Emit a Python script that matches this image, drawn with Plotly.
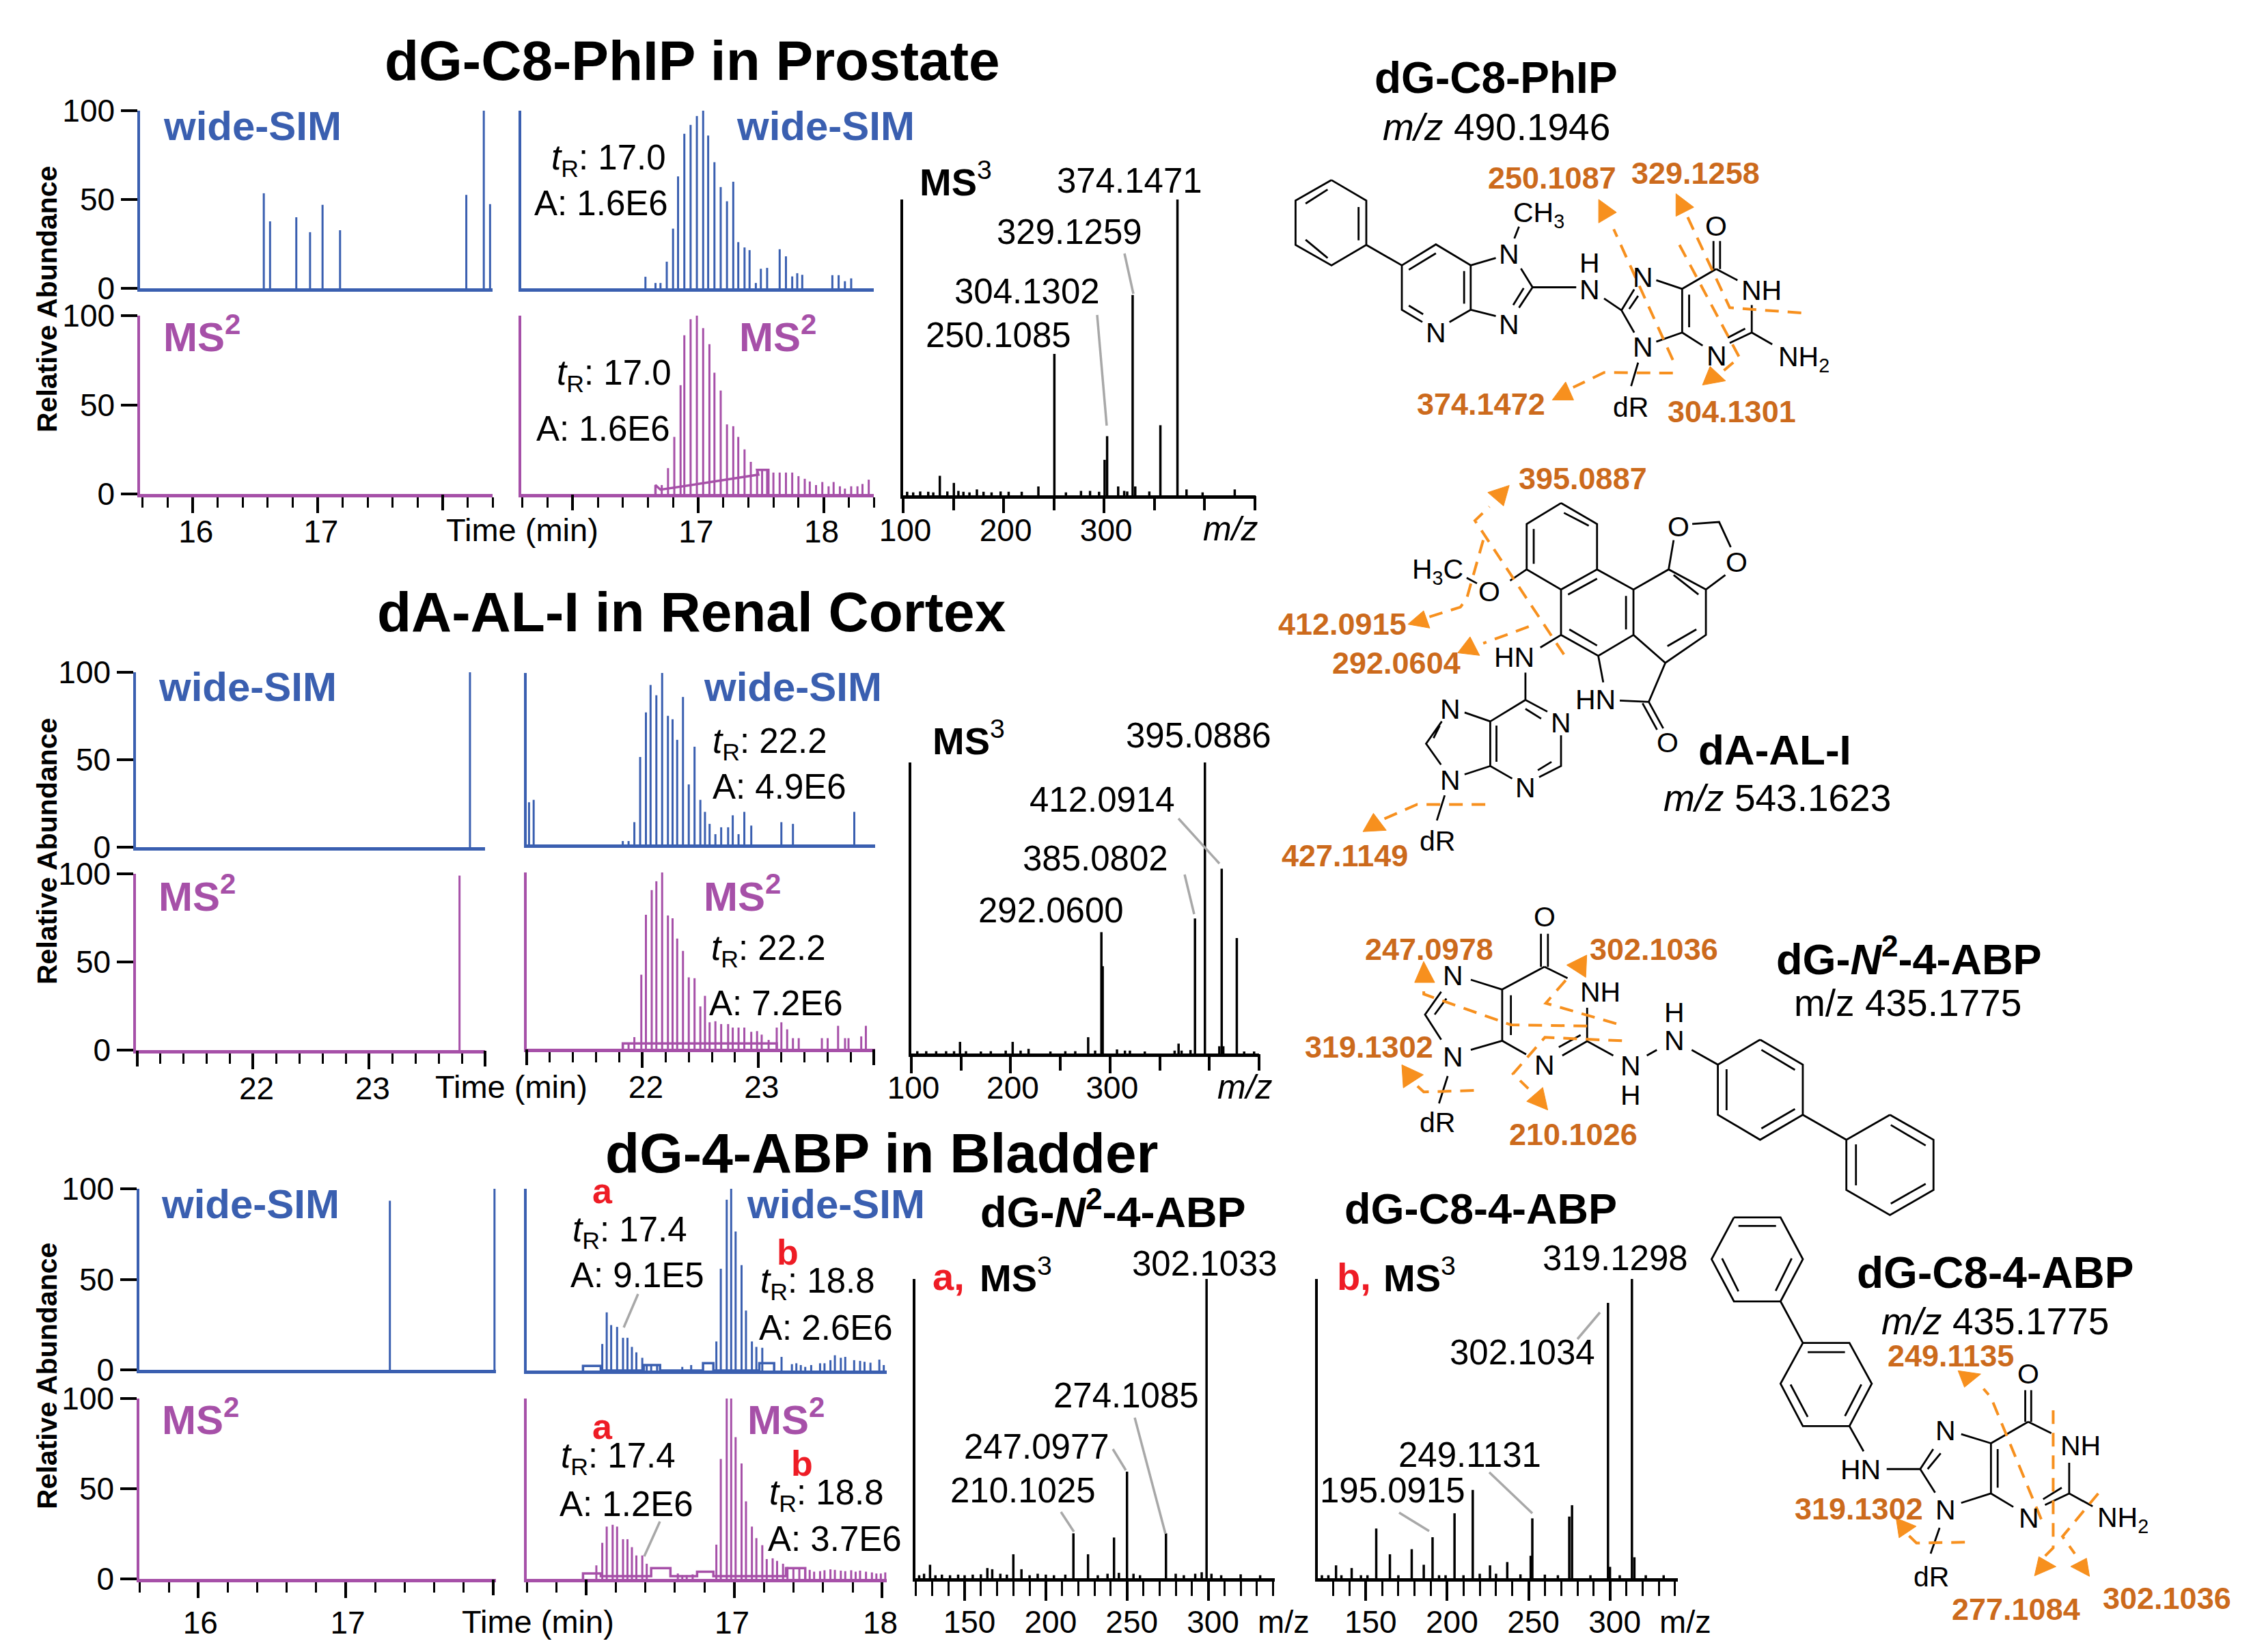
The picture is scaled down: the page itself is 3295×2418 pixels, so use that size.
import plotly.graph_objects as go

W, H = 3295, 2418
FONT = "Liberation Sans"
BLUE = "#3A5FB0"
PURPLE = "#A650A8"
ORANGE_T = "#CC6A1C"
ORANGE_L = "#F7901E"
GRAY = "#A8A8A8"

# ---------- chromatogram data (time min, relative abundance) ----------
r1_sim_left_t = [16.57, 16.62, 16.83, 16.94, 17.04, 17.18, 18.19, 18.33, 18.38]
r1_sim_left_y = [53.5, 37.7, 40, 31.6, 47, 32.7, 52.6, 100, 47.4]
r1_ms2_left_t = [15.6, 18.4]
r1_ms2_left_y = [0, 0]
r1_sim_mid_t = [16.58, 16.66, 16.70, 16.75, 16.80, 16.84, 16.89, 16.94, 16.99, 17.04, 17.08, 17.13, 17.18, 17.23, 17.28, 17.32, 17.37, 17.41, 17.46, 17.50, 17.55, 17.65, 17.70, 17.75, 17.79, 17.83, 18.07, 18.12, 18.17, 18.22]
r1_sim_mid_y = [6.5, 3, 3, 15, 33.6, 63, 87, 92, 97, 100, 86, 71, 57, 49, 60, 26, 23, 21.5, 3, 11, 11.5, 22, 18, 6.7, 8.5, 7.6, 7.4, 7.4, 4, 5.6]
r1_ms2_mid_t = [16.66, 16.71, 16.76, 16.81, 16.86, 16.89, 16.94, 16.99, 17.04, 17.09, 17.13, 17.18, 17.23, 17.28, 17.32, 17.37, 17.42, 17.47, 17.51, 17.55, 17.60, 17.65, 17.70, 17.75, 17.80, 17.85, 17.89, 17.94, 17.99, 18.04, 18.08, 18.13, 18.17, 18.22, 18.27, 18.31, 18.36]
r1_ms2_mid_y = [5, 5, 14.5, 32, 61, 89, 98, 100, 93, 84, 68, 58, 39, 38, 32, 25, 18, 13.5, 13.5, 13, 12, 12, 12, 12, 10, 8.5, 7, 5, 6.7, 4.3, 6.7, 4.3, 3, 4.3, 4.3, 5.6, 8]
r1_ms2_base_t = [16.66, 16.66, 16.70, 17.48, 17.47, 17.47, 17.56, 17.56]
r1_ms2_base_y = [0, 5, 2.4, 10.8, 13.5, 13.5, 13.5, 0]

r2_sim_left_t = [23.87]
r2_sim_left_y = [100]
r2_ms2_left_t = [23.78]
r2_ms2_left_y = [99]
r2_sim_mid_t = [21.02, 21.06, 21.83, 21.88, 21.93, 21.98, 22.03, 22.07, 22.12, 22.17, 22.22, 22.26, 22.30, 22.35, 22.40, 22.45, 22.50, 22.54, 22.58, 22.63, 22.68, 22.74, 22.78, 22.83, 22.88, 22.94, 23.20, 23.30, 23.83]
r2_sim_mid_y = [24.6, 26, 2, 2, 13, 51, 77, 93, 87, 100, 75, 73, 61, 86, 35, 57, 26, 19, 12, 6, 10, 10, 17, 6, 19, 11, 13, 12, 19]
r2_ms2_mid_t = [21.83, 21.88, 21.93, 21.99, 22.03, 22.08, 22.12, 22.17, 22.22, 22.26, 22.30, 22.35, 22.40, 22.45, 22.50, 22.54, 22.58, 22.63, 22.68, 22.74, 22.78, 22.83, 22.88, 22.94, 22.99, 23.03, 23.09, 23.16, 23.20, 23.25, 23.30, 23.35, 23.55, 23.60, 23.69, 23.75, 23.78, 23.89, 23.93]
r2_ms2_mid_y = [3, 3, 6.6, 42, 76, 90, 95, 100, 75.6, 74, 62.5, 55.5, 40.5, 40, 24, 30, 15, 15.6, 14, 14, 12, 12, 12, 9.6, 10, 8, 5, 12, 15, 11, 6, 6, 6, 6, 13, 6, 6, 7, 13]
r2_ms2_base_t = [21.83, 21.83, 23.16, 23.16]
r2_ms2_base_y = [0, 3, 3, 0]

r3_sim_left_t = [17.30, 18.01]
r3_sim_left_y = [93.4, 100]
r3_ms2_left_t = [15.6, 18.0]
r3_ms2_left_y = [0, 0]
r3_sim_mid_t = [16.11, 16.14, 16.17, 16.21, 16.25, 16.28, 16.31, 16.34, 16.38, 16.41, 16.44, 16.48, 16.65, 16.71, 16.88, 16.91, 16.95, 16.98, 17.01, 17.05, 17.08, 17.12, 17.15, 17.19, 17.32, 17.39, 17.42, 17.45, 17.48, 17.52, 17.58, 17.61, 17.65, 17.68, 17.72, 17.75, 17.81, 17.85, 17.88, 17.92, 17.98, 18.01]
r3_sim_mid_y = [14.6, 32, 25, 24, 18, 18, 13, 10, 7, 3, 3, 3, 2, 3, 16, 56, 94, 100, 76.5, 58, 33, 16, 13, 12.5, 7.5, 3.5, 4, 3, 2, 3, 4, 4, 5.7, 8.4, 7, 7.5, 5.7, 5.3, 4.8, 4.3, 6, 3]
r3_sim_base_t = [15.98, 15.98, 16.10, 16.10, 16.39, 16.39, 16.50, 16.50, 16.79, 16.79, 16.86, 16.86, 17.17, 17.17, 17.27, 17.27]
r3_sim_base_y = [0, 2.5, 2.5, 0, 0, 3, 3, 0, 0, 4, 4, 0, 0, 4, 4, 0]
r3_ms2_mid_t = [16.07, 16.11, 16.14, 16.18, 16.21, 16.25, 16.28, 16.31, 16.34, 16.38, 16.41, 16.62, 16.65, 16.68, 16.72, 16.88, 16.91, 16.95, 16.98, 17.01, 17.05, 17.08, 17.12, 17.15, 17.19, 17.22, 17.26, 17.29, 17.33, 17.36, 17.40, 17.44, 17.51, 17.54, 17.58, 17.61, 17.65, 17.68, 17.72, 17.75, 17.79, 17.82, 17.85, 17.89, 17.93, 17.96, 17.99, 18.02]
r3_ms2_mid_y = [7.5, 20, 29, 30, 29, 22, 22, 17.6, 13, 13, 8.4, 3, 2, 2, 2.5, 19, 66.5, 100, 100, 78.6, 64, 43, 29, 22.6, 18.7, 11, 11.4, 10, 8.4, 6.6, 6, 5.5, 5, 4, 4.3, 4.8, 5.3, 5, 4.6, 4.3, 4.8, 4, 4.6, 4, 3.6, 3, 3, 3.6]
r3_ms2_base_t = [15.98, 15.98, 16.10, 16.10, 16.44, 16.44, 16.57, 16.57, 16.75, 16.75, 16.86, 16.86, 17.35, 17.35, 17.48, 17.48]
r3_ms2_base_y = [0, 3, 3, 1.5, 1.5, 6, 6, 1.5, 1.5, 4, 4, 1.5, 1.5, 6, 6, 0]

# ---------- MS3 data (m/z, relative abundance) ----------
ms3_1_mz = [136.5, 150.5, 173.4, 234.6, 250.5, 300.5, 303, 314, 328.4, 331, 356, 373, 382, 430, 104, 110, 117, 125, 130, 144, 155, 160, 166, 180, 188, 197, 205, 218, 262, 277, 286, 295, 320, 323, 345, 398]
ms3_1_y = [6.6, 4.2, 2, 3, 47.8, 12, 20, 3, 67.7, 3, 23.7, 100, 2, 2, 1.2, 1, 1.3, 1.2, 1, 1.3, 1.5, 1.2, 1, 1.2, 1, 1.3, 1.2, 1.2, 1, 1.5, 1.5, 1.2, 1.5, 1.3, 1.3, 1]
ms3_2_mz = [149, 202, 218, 278, 291.3, 292.6, 307, 369, 385.5, 395.5, 412.4, 427.6, 106, 115, 125, 135, 143, 155, 170, 180, 195, 210, 240, 255, 265, 285, 315, 320, 335, 365, 372, 381, 410, 414, 435, 445]
ms3_2_y = [4, 4, 1.6, 5.6, 41.7, 30, 1.4, 3.4, 46.4, 100, 63.5, 39.7, 0.8, 0.8, 0.8, 0.8, 0.8, 0.8, 0.7, 0.8, 1, 1, 0.7, 0.8, 0.8, 1, 1, 1, 0.7, 1, 1, 1.2, 2.5, 2.5, 0.7, 0.7]
ms3_a_mz = [128.7, 164, 167, 180, 185, 217, 226, 242, 250, 274, 299, 122, 125, 132, 136, 141, 146, 150, 155, 160, 172, 176, 190, 195, 200, 205, 212, 232, 238, 245, 254, 258, 280, 285, 292, 296, 302, 308, 320, 332]
ms3_a_y = [4.5, 3.4, 3, 8, 3, 15, 8, 13.6, 35.6, 15, 100, 1, 1.5, 1, 1.2, 1, 1.2, 1, 1.2, 1.3, 1.5, 1.2, 1, 1.5, 1.2, 1, 1.2, 1, 1.5, 1.8, 1.5, 1, 1.5, 1, 1.5, 2, 1.5, 1, 1.3, 1]
ms3_b_mz = [131.7, 141.3, 156.4, 164.8, 178.2, 185.6, 191, 204.5, 215.7, 226.3, 236.9, 251.3, 252.3, 275, 276.7, 298.8, 300, 313.5, 315, 123, 127, 135, 147, 151, 170, 195, 199, 210, 220, 230, 245, 260, 268, 288, 306, 322, 333]
ms3_b_y = [4.3, 3.4, 16.6, 8, 9.7, 4.5, 13.7, 21.7, 29.5, 4.3, 5.4, 7.5, 20, 20.6, 24.4, 92, 3.8, 100, 7, 1, 1, 1, 1, 1, 1, 1, 1, 1, 1.5, 1.5, 1.3, 1.2, 1, 1, 1, 1, 1]

tick_labels_y = ["0", "50", "100"]


def px(x):
    return x / W


def py(y):
    return 1 - y / H


fig = go.Figure()
layout = {}
annotations = []
shapes = []


def stems(xs, ys):
    X, Y = [], []
    for a, b in zip(xs, ys):
        X += [a, a, None]
        Y += [0, b, None]
    return X, Y


def panel(n, box, xr, color, series, base=None, ytick=False, xaxis_spec=None, lw=3):
    L, R, T, B = box
    xa = dict(domain=[px(L), px(R)], range=xr, anchor=f"y{n}", showgrid=False, zeroline=False, automargin=False,
              showline=True, linecolor=color, linewidth=5, layer="above traces")
    ya = dict(domain=[py(B), py(T)], range=[0, 100], anchor=f"x{n}", showgrid=False, zeroline=False, automargin=False,
              showline=True, linecolor=color, linewidth=3.5)
    if ytick:
        ya.update(tickmode="array", tickvals=[0, 50, 100], ticktext=tick_labels_y, ticks="outside", ticklen=24,
                  tickwidth=4, tickcolor="black", tickfont=dict(family=FONT, size=46, color="black"))
    else:
        ya.update(showticklabels=False, ticks="")
    if xaxis_spec:
        xa.update(tickmode="array", tickvals=xaxis_spec["vals"], ticktext=xaxis_spec["text"], ticks="outside",
                  ticklen=xaxis_spec.get("len", 23), tickwidth=4, tickcolor="black",
                  ticklabelstandoff=xaxis_spec.get("standoff", 3), ticklabelshift=xaxis_spec.get("shift", 0),
                  tickfont=dict(family=FONT, size=46, color="black"))
        if "minor" in xaxis_spec:
            xa["minor"] = dict(ticks="outside", tick0=xaxis_spec["tick0"], dtick=xaxis_spec["minor"],
                               ticklen=xaxis_spec.get("mlen", 15), tickwidth=3, tickcolor="black", showgrid=False)
        if "plain" in xaxis_spec:
            # long tick marks that carry no label live on an overlaid axis of their own
            m = n + 100
            layout[f"xaxis{m}"] = dict(domain=[px(L), px(R)], range=xr, anchor=f"y{n}", overlaying=f"x{n}", showgrid=False,
                                       zeroline=False, automargin=False, showline=False, showticklabels=False,
                                       tickmode="array", tickvals=xaxis_spec["plain"], ticks="outside",
                                       ticklen=xaxis_spec.get("len", 23), tickwidth=4, tickcolor="black")
            fig.add_trace(go.Scatter(x=xaxis_spec["plain"], y=[0] * len(xaxis_spec["plain"]), mode="none", xaxis=f"x{m}",
                                     yaxis=f"y{n}", showlegend=False, hoverinfo="skip"))
    else:
        xa.update(showticklabels=False, ticks="")
    layout[f"xaxis{n}"] = xa
    layout[f"yaxis{n}"] = ya
    for (xs, ys) in series:
        X, Y = stems(xs, ys)
        fig.add_trace(go.Scatter(x=X, y=Y, mode="lines", line=dict(color=color, width=lw), xaxis=f"x{n}", yaxis=f"y{n}",
                                 showlegend=False, hoverinfo="skip", cliponaxis=False))
    if base:
        fig.add_trace(go.Scatter(x=base[0], y=base[1], mode="lines", line=dict(color=color, width=3.5), xaxis=f"x{n}",
                                 yaxis=f"y{n}", showlegend=False, hoverinfo="skip", cliponaxis=False))


def text(x, y, s, size=50, color="black", bold=False, anchor="center", italic=False, angle=0):
    if bold:
        s = f"<b>{s}</b>"
    if italic:
        s = f"<i>{s}</i>"
    annotations.append(dict(x=px(x), y=py(y), xref="paper", yref="paper", text=s, showarrow=False, xanchor=anchor,
                            yanchor="middle", textangle=angle, font=dict(family=FONT, size=size, color=color),
                            borderpad=0, borderwidth=0))


def path_from(segments, T):
    parts = []
    for seg in segments:
        for i, (a, b) in enumerate(seg):
            X, Y = T(a, b)
            parts.append(f"{'M' if i == 0 else 'L'} {px(X):.5f} {py(Y):.5f}")
    return " ".join(parts)


def leader(x0, y0, x1, y1):
    shapes.append(dict(type="line", xref="paper", yref="paper", x0=px(x0), y0=py(y0), x1=px(x1), y1=py(y1),
                       line=dict(color=GRAY, width=3.5)))


def structure(origin, scale, bonds, atoms, dashes, heads, labels):
    ox, oy = origin
    sx, sy = scale
    T = lambda a, b: (ox + a / sx, oy + b / sy)
    shapes.append(dict(type="path", xref="paper", yref="paper", path=path_from(bonds, T), line=dict(color="black", width=2.8)))
    for d in dashes:
        shapes.append(dict(type="path", xref="paper", yref="paper", path=path_from([d], T),
                           line=dict(color=ORANGE_L, width=4, dash="20px,13px")))
    for h in heads:
        cx = sum(p[0] for p in h) / 3
        cy = sum(p[1] for p in h) / 3
        big = [(cx + (a - cx) * 1.15, cy + (b - cy) * 1.15) for a, b in h]
        shapes.append(dict(type="path", xref="paper", yref="paper", path=path_from([big], T) + " Z",
                           fillcolor=ORANGE_L, line=dict(color=ORANGE_L, width=1)))
    for (a, b, s, *rest) in atoms:
        X, Y = T(a, b)
        text(X, Y, s, size=41, anchor=rest[0] if rest else "center")
    for (a, b, s) in labels:
        X, Y = T(a, b)
        text(X, Y, s, size=45, color=ORANGE_T, bold=True)


spec_r1_l = dict(vals=[16, 17], text=["16", "17"], plain=[18], minor=0.2, tick0=15.6, shift=5, standoff=-12)
spec_r1_m = dict(vals=[17, 18], text=["17", "18"], plain=[16], minor=0.2, tick0=15.6, shift=-3, standoff=-12)
spec_r2_l = dict(vals=[22, 23], text=["22", "23"], plain=[21, 24], minor=0.2, tick0=21, shift=5, standoff=-11)
spec_r2_m = dict(vals=[22, 23], text=["22", "23"], plain=[21, 24], minor=0.2, tick0=21, shift=5, standoff=-11)
spec_r3_l = dict(vals=[16, 17], text=["16", "17"], plain=[18], minor=0.2, tick0=15.6, shift=3, standoff=-3)
spec_r3_m = dict(vals=[17, 18], text=["17", "18"], plain=[16], minor=0.2, tick0=15.6, shift=-3, standoff=-3)

# row 1
panel(1, (205, 721, 162, 422), [15.58, 18.4], BLUE, [(r1_sim_left_t, r1_sim_left_y)], ytick=True)
panel(2, (205, 721, 462, 723), [15.58, 18.4], PURPLE, [(r1_ms2_left_t, r1_ms2_left_y)], ytick=True, xaxis_spec=spec_r1_l)
panel(3, (763, 1279, 162, 422), [15.59, 18.4], BLUE, [(r1_sim_mid_t, r1_sim_mid_y)])
panel(4, (763, 1279, 462, 723), [15.59, 18.4], PURPLE, [(r1_ms2_mid_t, r1_ms2_mid_y)],
      base=(r1_ms2_base_t, r1_ms2_base_y), xaxis_spec=spec_r1_m)
# row 2
panel(5, (199, 710, 984, 1240), [20.99, 24.0], BLUE, [(r2_sim_left_t, r2_sim_left_y)], ytick=True)
panel(6, (199, 710, 1279, 1537), [20.99, 24.0], PURPLE, [(r2_ms2_left_t, r2_ms2_left_y)], ytick=True, xaxis_spec=spec_r2_l)
panel(7, (771, 1281, 985, 1236), [21.0, 24.01], BLUE, [(r2_sim_mid_t, r2_sim_mid_y)])
panel(8, (771, 1281, 1277, 1535), [21.0, 24.01], PURPLE, [(r2_ms2_mid_t, r2_ms2_mid_y)],
      base=(r2_ms2_base_t, r2_ms2_base_y), xaxis_spec=spec_r2_m)
# row 3
panel(9, (204, 726, 1740, 2005), [15.6, 18.02], BLUE, [(r3_sim_left_t, r3_sim_left_y)], ytick=True)
panel(10, (204, 726, 2047, 2311), [15.6, 18.02], PURPLE, [(r3_ms2_left_t, r3_ms2_left_y)], ytick=True, xaxis_spec=spec_r3_l)
panel(11, (771, 1298, 1740, 2006), [15.6, 18.03], BLUE, [(r3_sim_mid_t, r3_sim_mid_y)], base=(r3_sim_base_t, r3_sim_base_y))
panel(12, (771, 1298, 2047, 2311), [15.6, 18.03], PURPLE, [(r3_ms2_mid_t, r3_ms2_mid_y)],
      base=(r3_ms2_base_t, r3_ms2_base_y), xaxis_spec=spec_r3_m)
# MS3
panel(13, (1322, 1838, 292, 725), [100, 450.8], "black", [(ms3_1_mz, ms3_1_y)], lw=3.5,
      xaxis_spec=dict(vals=[100, 200, 300], text=["100", "200", "300"], plain=[150, 250, 350, 400, 450], shift=3, standoff=-14, len=21))
panel(14, (1334, 1843, 1116, 1542), [100, 450], "black", [(ms3_2_mz, ms3_2_y)], lw=3.5,
      xaxis_spec=dict(vals=[100, 200, 300], text=["100", "200", "300"], plain=[150, 250, 350, 400, 450], shift=3, standoff=-18, len=24))
tk2 = [150, 200, 250, 300]
panel(15, (1340, 1866, 1872, 2310), [119.7, 341], "black", [(ms3_a_mz, ms3_a_y)], lw=3.5,
      xaxis_spec=dict(vals=tk2, text=["150", "200", "250", "300"], minor=10, tick0=120, len=28, mlen=21, shift=7, standoff=-8))
panel(16, (1929, 2456, 1872, 2310), [120.5, 341.7], "black", [(ms3_b_mz, ms3_b_y)], lw=3.5,
      xaxis_spec=dict(vals=tk2, text=["150", "200", "250", "300"], minor=10, tick0=120, len=28, mlen=21, shift=7, standoff=-8))

# titles
text(1013, 88, "dG-C8-PhIP in Prostate", 82, bold=True)
text(1012, 895, "dA-AL-I in Renal Cortex", 82, bold=True)
text(1290, 1687, "dG-4-ABP in Bladder", 82, bold=True)
for yc in (438, 1246, 2014):
    text(69, yc, "Relative Abundance", 41, bold=True, angle=-90)
for xc, yc in ((764, 776), (748, 1590), (787, 2373)):
    text(xc, yc, "Time (min)", 47)

# panel tags
for x, y in ((239, 184), (1078, 184), (232, 1005), (1030, 1005), (236, 1762), (1093, 1762)):
    text(x, y, "wide-SIM", 60, BLUE, bold=True, anchor="left")
for x, y in ((239, 489), (1082, 489), (232, 1308), (1030, 1308), (237, 2074), (1094, 2074)):
    text(x, y, "MS<sup>2</sup>", 60, PURPLE, bold=True, anchor="left")


def tr(x, y, v, anchor="left"):
    text(x, y, f"<i>t</i><sub>R</sub>: {v}", 51, anchor=anchor)


tr(975, 234, "17.0", "right"); text(978, 297, "A: 1.6E6", 51, anchor="right")
tr(983, 549, "17.0", "right"); text(981, 627, "A: 1.6E6", 51, anchor="right")
tr(1043, 1088, "22.2"); text(1043, 1151, "A: 4.9E6", 51, anchor="left")
tr(1041, 1391, "22.2"); text(1038, 1468, "A: 7.2E6", 51, anchor="left")
tr(838, 1803, "17.4"); text(835, 1866, "A: 9.1E5", 51, anchor="left")
tr(1113, 1878, "18.8"); text(1111, 1943, "A: 2.6E6", 51, anchor="left")
tr(821, 2134, "17.4"); text(819, 2201, "A: 1.2E6", 51, anchor="left")
tr(1126, 2188, "18.8"); text(1124, 2252, "A: 3.7E6", 51, anchor="left")
for x, y, s in ((882, 1743, "a"), (1153, 1833, "b"), (882, 2088, "a"), (1174, 2142, "b")):
    text(x, y, s, 52, "#EE1C25", bold=True)
leader(934, 1894, 913, 1943)
leader(966, 2227, 943, 2278)

# MS3 text
MS3 = "<b>MS</b><sup>3</sup>"
text(1346, 262, MS3, 56, anchor="left")
text(1365, 1080, MS3, 56, anchor="left")
text(1365, 1868, "a,", 56, "#EE1C25", bold=True, anchor="left")
text(1434, 1866, MS3, 56, anchor="left")
text(1957, 1868, "b,", 56, "#EE1C25", bold=True, anchor="left")
text(2025, 1866, MS3, 56, anchor="left")
text(1629, 1769, "dG-<i>N</i><sup>2</sup>-4-ABP", 63, bold=True)
text(2167, 1769, "dG-C8-4-ABP", 63, bold=True)
for x, y, s in ((1653, 264, "374.1471"), (1565, 339, "329.1259"), (1503, 426, "304.1302"), (1461, 490, "250.1085"),
                (1755, 1076, "395.0886"), (1613, 1170, "412.0914"), (1603, 1256, "385.0802"), (1538, 1332, "292.0600"),
                (1763, 1849, "302.1033"), (1649, 2042, "274.1085"), (1517, 2117, "247.0977"), (1497, 2181, "210.1025"),
                (2364, 1841, "319.1298"), (2228, 1979, "302.1034"), (2151, 2129, "249.1131"), (2038, 2181, "195.0915")):
    text(x, y, s, 51)
for args in ((1646, 371, 1659, 430), (1606, 461, 1620, 623), (1725, 1198, 1785, 1264), (1734, 1280, 1748, 1338),
             (1661, 2075, 1706, 2245), (1629, 2121, 1648, 2152), (1553, 2213, 1572, 2242),
             (2342, 1921, 2309, 1960), (2180, 2155, 2243, 2215), (2048, 2214, 2092, 2241)):
    leader(*args)
text(1801, 774, "<i>m/z</i>", 50)
text(1822, 1591, "<i>m/z</i>", 50)
text(1879, 2373, "m/z", 47)
text(2467, 2373, "m/z", 47)

# ---------- structures ----------
structure((1850, 60), (1.767, 2.613), [
    [(175, 532), (265, 610), (265, 780), (175, 858), (82, 780), (82, 610), (175, 532)],
    [(245, 635), (245, 762)], [(165, 568), (108, 622)], [(108, 760), (165, 830)],
    [(265, 780), (357, 858)], [(357, 858), (445, 778), (535, 858), (535, 1028), (480, 1075)],
    [(410, 1075), (357, 1028), (357, 858)], [(375, 875), (445, 812)], [(518, 880), (518, 1005)], [(375, 1012), (412, 1045)],
    [(535, 858), (600, 830)], [(665, 870), (695, 942), (660, 1020)], [(672, 945), (645, 1010)], [(600, 1052), (535, 1028)],
    [(660, 710), (648, 755)], [(695, 942), (808, 942)], [(880, 985), (925, 1030)], [(925, 1030), (958, 950)],
    [(945, 1025), (968, 975)], [(925, 1030), (958, 1115)], [(1015, 915), (1082, 948)], [(1015, 1150), (1082, 1115)],
    [(1082, 948), (1082, 1115)], [(1100, 970), (1100, 1095)], [(1082, 948), (1170, 872)], [(1163, 872), (1163, 765)],
    [(1180, 872), (1180, 765)], [(1170, 872), (1225, 915)], [(1262, 1010), (1262, 1115)], [(1262, 1115), (1315, 1160)],
    [(1262, 1115), (1205, 1155)], [(1245, 1100), (1200, 1135)], [(1135, 1165), (1082, 1115)], [(968, 1230), (950, 1320)],
], [
    (635, 815, "N"), (635, 1085, "N"), (445, 1115, "N"), (842, 850, "H"), (842, 950, "N"), (980, 905, "N"), (980, 1170, "N"),
    (1170, 708, "O"), (1288, 955, "NH"), (1172, 1205, "N"), (1330, 1215, "NH<sub>2</sub>", "left"), (948, 1400, "dR"),
    (645, 665, "CH<sub>3</sub>", "left"),
], [
    [(1058, 1220), (905, 720)], [(1075, 780), (1230, 1210), (1190, 1260)],
    [(1390, 1040), (1205, 1020), (1095, 670)], [(1058, 1270), (880, 1268), (800, 1325)],
], [
    [(868, 612), (868, 690), (908, 655)], [(1068, 590), (1068, 665), (1108, 635)],
    [(750, 1370), (780, 1310), (798, 1370)], [(1138, 1312), (1155, 1250), (1190, 1298)],
], [(745, 525, "250.1087"), (1117, 505, "329.1258"), (562, 1388, "374.1472"), (1210, 1418, "304.1301")])
text(2190, 114, "dG-C8-PhIP", 64, bold=True)
text(2190, 186, "<i>m/z</i> 490.1946", 55)

structure((1850, 660), (1.6505, 2.45), [
    [(718, 187), (805, 262), (805, 425), (718, 497), (635, 425), (635, 262), (718, 187)],
    [(725, 222), (785, 268)], [(652, 280), (652, 405)], [(805, 425), (893, 497), (978, 425), (1068, 497), (1068, 660), (970, 760), (893, 660), (893, 497)],
    [(990, 445), (1050, 515)], [(1045, 640), (975, 700)], [(875, 640), (875, 520)], [(735, 515), (805, 458)],
    [(718, 497), (718, 660), (808, 735), (893, 660)], [(738, 640), (805, 698)], [(635, 425), (595, 465)], [(490, 455), (515, 475)],
    [(978, 425), (990, 320)], [(1035, 262), (1100, 255), (1128, 345)], [(1115, 445), (1068, 497)], [(808, 735), (820, 830)],
    [(860, 895), (930, 900), (970, 760)], [(930, 900), (965, 995)], [(915, 905), (950, 1000)], [(718, 660), (668, 705)],
    [(632, 795), (632, 893), (685, 935)], [(632, 925), (670, 960)], [(718, 1020), (718, 1130), (665, 1170)], [(695, 1115), (662, 1145)],
    [(600, 1175), (547, 1130), (547, 970), (632, 893)], [(562, 985), (562, 1115)], [(547, 970), (485, 938)],
    [(430, 970), (392, 1050), (428, 1125)], [(425, 985), (410, 1030)], [(485, 1160), (547, 1130)], [(437, 1235), (418, 1325)],
], [
    (545, 505, "O"), (1002, 272, "O"), (1142, 400, "O"), (975, 1045, "O"), (605, 740, "HN"), (802, 892, "HN"),
    (718, 975, "N"), (632, 1208, "N"), (450, 925, "N"), (450, 1180, "N"), (420, 1400, "dR"),
    (358, 430, "H<sub>3</sub>C", "left"),
], [
    [(725, 730), (510, 250), (545, 200)], [(530, 320), (490, 530), (475, 560), (400, 595)],
    [(640, 630), (530, 690)], [(535, 1268), (370, 1268), (290, 1320)],
], [
    [(590, 128), (545, 150), (578, 192)], [(352, 620), (385, 578), (398, 632)],
    [(472, 722), (498, 672), (518, 730)], [(243, 1362), (265, 1305), (292, 1358)],
], [(770, 100, "395.0887"), (190, 622, "412.0915"), (320, 760, "292.0604"), (195, 1452, "427.1149")])
text(2598, 1097, "dA-AL-I", 62, bold=True)
text(2601, 1168, "<i>m/z</i> 543.1623", 55)

structure((1880, 1300), (1.568, 3.0), [
    [(597, 345), (500, 445)], [(589, 345), (589, 200)], [(605, 345), (605, 200)], [(597, 345), (650, 395)],
    [(695, 525), (695, 672), (755, 735)], [(695, 672), (638, 735)], [(680, 645), (630, 698)], [(555, 730), (500, 670), (500, 445)],
    [(520, 470), (520, 645)], [(500, 445), (428, 402)], [(360, 455), (323, 555), (360, 665)], [(372, 485), (345, 555)],
    [(428, 710), (500, 670)], [(375, 825), (355, 945)], [(832, 735), (855, 710)], [(935, 710), (995, 775)],
    [(1092, 665), (1190, 775), (1190, 995), (1092, 1105), (995, 995), (995, 775), (1092, 665)],
    [(1095, 710), (1172, 798)], [(1015, 795), (1015, 975)], [(1172, 970), (1095, 1055)], [(1190, 995), (1290, 1105)],
    [(1390, 995), (1490, 1105), (1490, 1325), (1390, 1435), (1290, 1325), (1290, 1105), (1390, 995)],
    [(1392, 1040), (1472, 1130)], [(1312, 1125), (1312, 1305)], [(1472, 1298), (1392, 1385)],
], [
    (597, 125, "O"), (725, 455, "NH"), (597, 778, "N"), (388, 385, "N"), (388, 742, "N"), (352, 1030, "dR"),
    (795, 780, "N"), (795, 910, "H"), (895, 670, "N"), (895, 545, "H"),
], [
    [(695, 605), (520, 600), (320, 465), (320, 410)], [(762, 595), (600, 505), (650, 395)],
    [(435, 888), (320, 895), (295, 850)], [(775, 670), (598, 655), (525, 815), (560, 880)],
], [
    [(320, 330), (302, 410), (342, 410)], [(692, 300), (652, 338), (690, 385)],
    [(272, 782), (275, 870), (315, 820)], [(602, 968), (560, 935), (592, 882)],
], [(333, 268, "247.0978"), (848, 268, "302.1036"), (195, 698, "319.1302"), (663, 1080, "210.1026")])
text(2794, 1399, "dG-<i>N</i><sup>2</sup>-4-ABP", 63, bold=True)
text(2792, 1468, "m/z 435.1775", 55)

structure((2440, 1760), (1.834, 2.383), [
    [(180, 52), (305, 52), (365, 198), (305, 345), (180, 345), (120, 198), (180, 52)],
    [(192, 82), (293, 82)], [(335, 195), (292, 308)], [(192, 310), (148, 195)], [(305, 345), (365, 490)],
    [(365, 490), (490, 490), (550, 632), (490, 780), (365, 780), (305, 632), (365, 490)],
    [(378, 522), (478, 522)], [(522, 635), (478, 745)], [(378, 748), (332, 635)], [(490, 780), (528, 868)],
    [(590, 930), (680, 930), (715, 860)], [(700, 930), (735, 875)], [(680, 930), (720, 1012)], [(790, 808), (870, 840)],
    [(790, 1048), (870, 1015)], [(870, 840), (870, 1015)], [(888, 860), (888, 995)], [(870, 840), (970, 765)],
    [(962, 765), (962, 655)], [(978, 765), (978, 655)], [(970, 765), (1032, 805)], [(1080, 908), (1080, 1015), (1143, 1060)],
    [(1080, 1015), (1015, 1055)], [(1060, 995), (1010, 1035)], [(930, 1062), (870, 1015)], [(732, 1135), (708, 1225)],
], [
    (520, 932, "HN"), (748, 795, "N"), (748, 1072, "N"), (970, 597, "O"), (1110, 848, "NH"),
    (1155, 1105, "NH<sub>2</sub>", "left"), (972, 1100, "N"), (710, 1305, "dR"),
], [
    [(1005, 1105), (870, 680), (850, 650)], [(1037, 725), (1037, 1205), (1010, 1240)],
    [(1158, 1015), (1062, 1165), (1095, 1225)], [(800, 1185), (670, 1188), (640, 1150)],
], [
    [(785, 590), (800, 640), (838, 600)], [(990, 1298), (1000, 1240), (1040, 1270)],
    [(1132, 1300), (1088, 1270), (1125, 1245)], [(618, 1105), (625, 1165), (665, 1130)],
], [(762, 535, "249.1135"), (515, 1068, "319.1302"), (938, 1418, "277.1084"), (1343, 1382, "302.1036")])
text(2920, 1863, "dG-C8-4-ABP", 64, bold=True)
text(2920, 1934, "<i>m/z</i> 435.1775", 55)

fig.update_layout(template="none", width=W, height=H, margin=dict(l=0, r=0, t=0, b=0), autosize=False, paper_bgcolor="white",
                  plot_bgcolor="white", showlegend=False, annotations=annotations, shapes=shapes,
                  font=dict(family=FONT), **layout)
fig.write_html("out.html", post_script="document.body.style.margin='0';", config={"displayModeBar": False})
